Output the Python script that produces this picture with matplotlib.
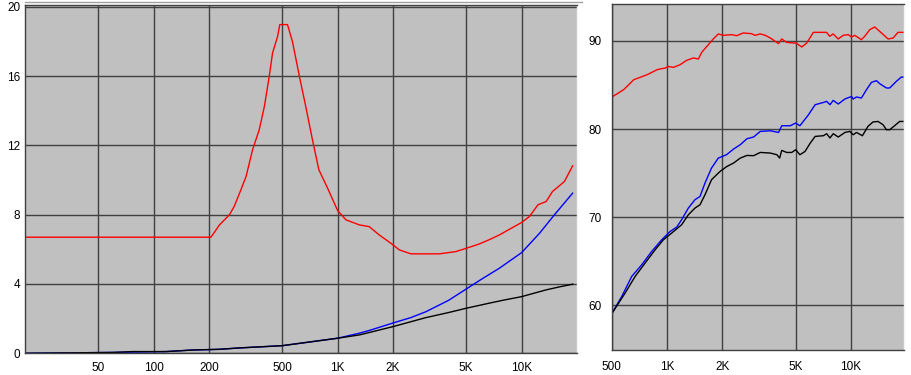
import numpy as np
import matplotlib
matplotlib.use('Agg')
import matplotlib.pyplot as plt
from matplotlib.lines import Line2D

plt.rcParams['font.family'] = ['Liberation Sans', 'DejaVu Sans']
plt.rcParams['font.size'] = 8.5

# left panel: impedance-like curves, 20 Hz .. 20 kHz
red_f = [20, 205, 228, 258, 274, 298, 318, 345, 375, 400, 425, 443, 472, 485, 534, 568, 620, 671,
         730, 791, 882, 1000, 1111, 1313, 1485, 1684, 1971, 2162, 2504, 3573, 4396, 5000,
         5888, 6650, 7570, 10000, 11020, 12270, 13590, 14730, 17080, 18930]
red_v = [6.70, 6.70, 7.41, 7.99, 8.47, 9.43, 10.2, 11.75, 12.9, 14.25, 15.98, 17.33, 18.29, 18.97,
         18.97, 18.0, 15.98, 14.25, 12.32, 10.59, 9.53, 8.24, 7.70, 7.41, 7.31, 6.83, 6.31,
         5.97, 5.74, 5.74, 5.87, 6.06, 6.31, 6.55, 6.83, 7.55, 7.89, 8.57, 8.76, 9.34, 9.91, 10.82]

blue_f = [20, 60, 117, 163, 228, 292, 408, 500, 1000, 1313, 1500, 2000, 2500, 3020, 4000, 5000,
          6000, 7570, 10000, 12520, 15070, 18930]
blue_v = [0.0, 0.05, 0.1, 0.19, 0.23, 0.31, 0.39, 0.44, 0.87, 1.16, 1.33, 1.75, 2.06, 2.40, 3.05,
          3.71, 4.25, 4.91, 5.81, 6.93, 7.99, 9.24]

black_f = [20, 60, 77, 117, 163, 228, 292, 408, 500, 1000, 1313, 2000, 3020, 4000, 5000, 6650,
           8000, 10000, 13590, 16000, 19000]
black_v = [0.0, 0.05, 0.1, 0.1, 0.19, 0.23, 0.31, 0.39, 0.44, 0.87, 1.06, 1.54, 2.06, 2.35, 2.6,
           2.89, 3.07, 3.27, 3.66, 3.83, 3.99]

left_ticks = [50, 100, 200, 500, 1000, 2000, 5000, 10000]
left_labels = ['50', '100', '200', '500', '1K', '2K', '5K', '10K']
left_yticks = [0, 4, 8, 12, 16, 20]

# right panel: 500 Hz .. 20 kHz
rr_f = [507, 581, 659, 779, 883, 916, 979, 1016, 1082, 1176, 1278, 1389, 1479, 1541, 1676, 1783,
        1899, 2020, 2243, 2385, 2596, 2878, 3000, 3210, 3420, 3640, 3878, 4036, 4200, 4470, 4870,
        5020, 5400, 5743, 6240, 7360, 7660, 7990, 8510, 9060, 9650, 10060, 10480, 11380, 11860,
        12630, 13450, 14320, 15900, 16930, 18000, 19160]
rr_v = [83.7, 84.47, 85.6, 86.17, 86.74, 86.82, 86.93, 87.11, 87.0, 87.3, 87.8, 88.07, 87.95, 88.7,
        89.58, 90.23, 90.8, 90.64, 90.72, 90.6, 90.91, 90.83, 90.64, 90.8, 90.64, 90.34, 89.95,
        89.7, 90.23, 89.84, 89.77, 89.77, 89.32, 89.77, 90.98, 90.98, 90.53, 90.8, 90.23, 90.64,
        90.72, 90.45, 90.64, 90.15, 90.53, 91.28, 91.59, 91.09, 90.23, 90.34, 90.98, 90.98]

rb_f = [505, 567, 642, 728, 825, 935, 1038, 1128, 1200, 1305, 1418, 1510, 1607, 1744, 1899, 2104,
        2300, 2500, 2718, 2953, 3210, 3640, 4036, 4200, 4670, 5000, 5270, 5860, 6380, 7080, 7370,
        7680, 8000, 8520, 9260, 10060, 10270, 10700, 11380, 12130, 12910, 13750, 14320, 15570,
        16220, 17620, 18750, 19160]
rb_v = [59.16, 60.98, 63.25, 64.58, 66.1, 67.42, 68.36, 68.86, 69.7, 71.02, 71.97, 72.34, 73.86,
        75.57, 76.7, 77.08, 77.73, 78.22, 78.9, 79.09, 79.73, 79.8, 79.61, 80.37, 80.37, 80.68,
        80.37, 81.6, 82.76, 83.02, 83.14, 82.76, 83.25, 82.84, 83.41, 83.7, 83.41, 83.64, 83.52,
        84.47, 85.3, 85.49, 85.15, 84.66, 84.66, 85.41, 85.9, 85.9]

rk_f = [505, 591, 670, 759, 861, 955, 1059, 1200, 1305, 1418, 1510, 1607, 1744, 1940, 2115, 2300,
        2500, 2718, 2953, 3210, 3640, 3953, 4090, 4200, 4470, 4760, 5000, 5270, 5620, 6000, 6380,
        7080, 7370, 7680, 8000, 8520, 9260, 9860, 10270, 10700, 11530, 12360, 13160, 14010, 14920,
        15570, 16220, 17260, 18370, 19160]
rk_v = [59.16, 61.36, 63.25, 64.77, 66.28, 67.42, 68.18, 69.13, 70.26, 71.02, 71.4, 72.53, 74.24,
        75.18, 75.75, 76.14, 76.7, 77.0, 76.97, 77.34, 77.27, 77.08, 76.7, 77.57, 77.34, 77.34,
        77.65, 77.08, 77.45, 78.4, 79.16, 79.24, 79.47, 78.98, 79.47, 79.09, 79.61, 79.73, 79.35,
        79.61, 79.24, 80.3, 80.8, 80.86, 80.49, 79.92, 79.92, 80.38, 80.86, 80.86]

right_ticks = [500, 1000, 2000, 5000, 10000]
right_labels = ['500', '1K', '2K', '5K', '10K']
right_yticks = [60, 70, 80, 90]

W, H = 912, 375
fig = plt.figure(figsize=(W / 100, H / 100), dpi=100)
fig.patch.set_facecolor('white')

bg = '#c0c0c0'
gridc = '#404040'


def style(ax):
    ax.set_facecolor(bg)
    ax.set_xscale('log')
    ax.minorticks_off()
    ax.grid(True, color=gridc, lw=1.0)
    ax.set_axisbelow(True)
    ax.tick_params(length=0, labelsize=8.5, colors='black')
    for s in ['left', 'bottom', 'top']:
        ax.spines[s].set_color(gridc)
        ax.spines[s].set_linewidth(1.0)
    ax.spines['right'].set_color('#f4f4f4')
    ax.spines['right'].set_linewidth(1.0)


# left panel
ax1 = fig.add_axes([25 / W, 1 - 353.3 / H, (577 - 25) / W, (353.3 - 5) / H])
style(ax1)
ax1.plot(red_f, red_v, color='#ff0000', lw=1.0)
ax1.plot(blue_f, blue_v, color='#0000ff', lw=1.0)
ax1.plot(black_f, black_v, color='#000000', lw=1.0)
ax1.set_xlim(20, 20000)
ax1.set_ylim(0, 20.1)
ax1.set_xticks(left_ticks)
ax1.set_xticklabels(left_labels)
ax1.set_yticks(left_yticks)
ax1.tick_params(axis='x', pad=6.5)
ax1.tick_params(axis='y', pad=3.5)

# right panel
ax2 = fig.add_axes([611.7 / W, 1 - 350 / H, (904 - 611.7) / W, (350 - 4) / H])
style(ax2)
ax2.plot(rr_f, rr_v, color='#ff0000', lw=1.0)
ax2.plot(rb_f, rb_v, color='#0000ff', lw=1.0)
ax2.plot(rk_f, rk_v, color='#000000', lw=1.0)
ax2.set_xlim(500, 19400)
ax2.set_ylim(54.9, 94.2)
ax2.set_xticks(right_ticks)
ax2.set_xticklabels(right_labels)
ax2.set_yticks(right_yticks)
ax2.tick_params(axis='x', pad=8)
ax2.tick_params(axis='y', pad=7)

# thin border line along the top of the left window
fig.add_artist(Line2D([25 / W, 582 / W], [1 - 1.5 / H, 1 - 1.5 / H],
                      transform=fig.transFigure, color='#a0a0a0', lw=1.0))

fig.savefig('out.png', dpi=100)
